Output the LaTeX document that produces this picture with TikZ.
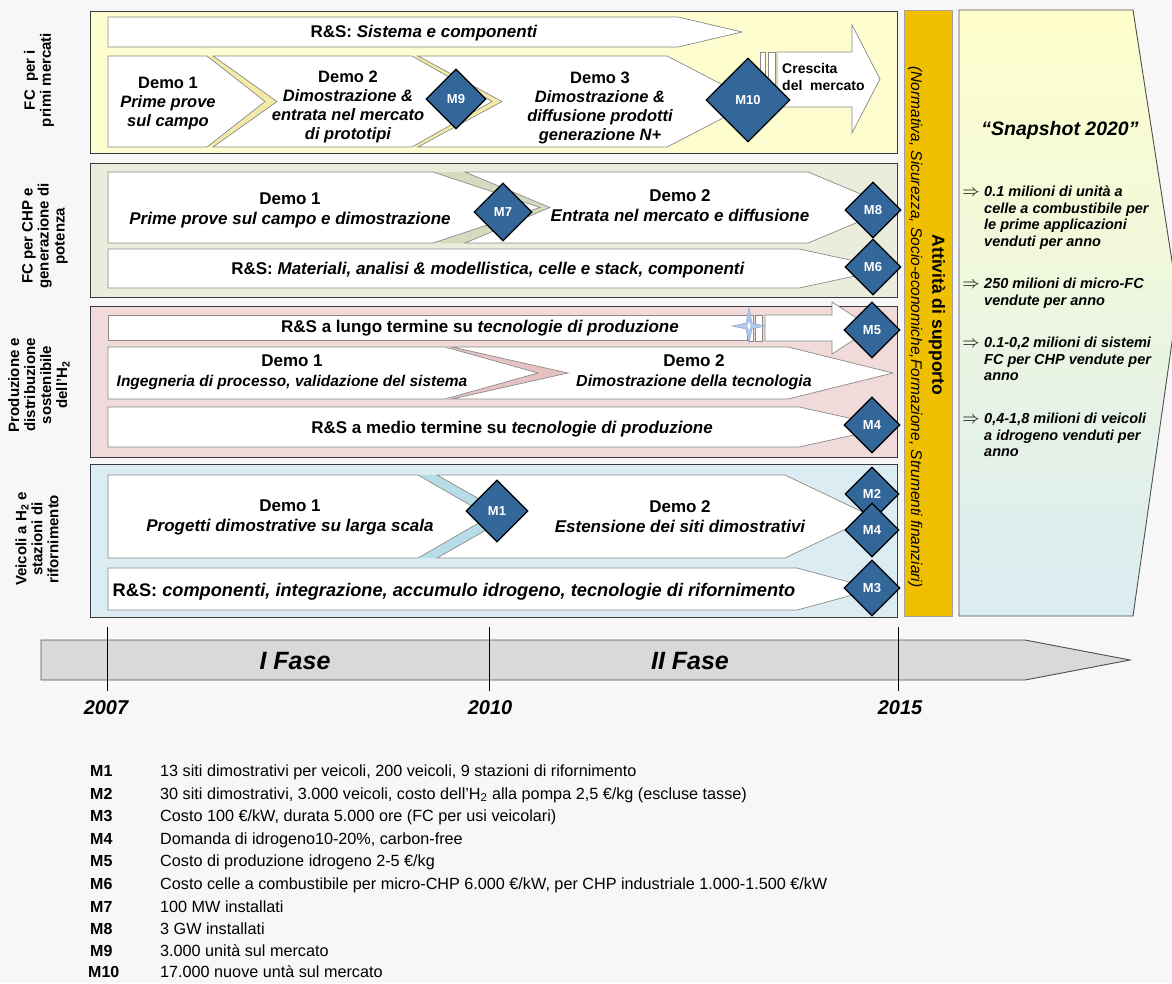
\documentclass[tikz,border=0pt]{standalone}
\usepackage{fontspec}
\setmainfont{Liberation Sans}
\usetikzlibrary{shapes.geometric}
\definecolor{bgc}{HTML}{F7F7F7}
\definecolor{bandline}{HTML}{3C3C3C}
\definecolor{chevline}{HTML}{8A8A8A}
\definecolor{yband}{HTML}{FEFDD0}
\definecolor{ygap}{HTML}{F2EAA6}
\definecolor{gband}{HTML}{EAEDDC}
\definecolor{ggap}{HTML}{D5DBBE}
\definecolor{pband}{HTML}{F1DADA}
\definecolor{pgap}{HTML}{E6C2C2}
\definecolor{bband}{HTML}{DBEDF3}
\definecolor{bgap}{HTML}{B7DDE9}
\definecolor{msblue}{HTML}{336699}
\definecolor{supp}{HTML}{F0C000}
\definecolor{suppline}{HTML}{A0A0A0}
\definecolor{tlfill}{HTML}{D9D9D9}
\definecolor{tlline}{HTML}{505050}
\definecolor{snapY}{HTML}{FFFFCC}
\definecolor{snapB}{HTML}{DAECF3}
\definecolor{starfill}{HTML}{B0C8E8}
\definecolor{starline}{HTML}{8CA8D0}
\newcommand{\chevshape}[7][]{%
  \pgfmathsetmacro{\chvM}{(#4+#5)/2}%
  \draw[chev,#1] (#2,#4) -- (#6,#4) -- (#7,\chvM) -- (#6,#5) -- (#2,#5) -- (#3,\chvM) -- cycle;}
\newcommand{\gapshape}[7]{%
  \pgfmathsetmacro{\chvM}{(#6+#7)/2}%
  \fill[#1] (#2,#6) -- (#4,#6) -- (#5,\chvM) -- (#4,#7) -- (#2,#7) -- (#3,\chvM) -- cycle;}
\begin{document}
\begin{tikzpicture}[x=1pt,y=-1pt,
  bandbox/.style={draw=bandline,line width=0.9pt},
  chev/.style={draw=chevline,fill=white,line width=0.7pt},
  mstone/.style={diamond,aspect=1,draw=black,line width=1.3pt,fill=msblue,text=white,inner sep=0pt,minimum size=#1,font=\bfseries\fontsize{13}{13}\selectfont},
  mstone/.default=56pt,
  lab/.style={rotate=90,align=center,font=\bfseries\fontsize{15}{16}\selectfont},
  dtext/.style={align=center,font=\bfseries\fontsize{17}{20}\selectfont},
  dtextA/.style={align=center,font=\bfseries\fontsize{16.5}{19}\selectfont},
  rstext/.style={font=\bfseries\fontsize{17}{20}\selectfont},
  snap/.style={anchor=north west,align=left,inner sep=0pt,font=\bfseries\itshape\fontsize{14.5}{16.5}\selectfont},
  arr/.style={inner sep=0pt,font=\fontsize{17}{17}\selectfont},
  year/.style={font=\bfseries\itshape\fontsize{20}{20}\selectfont},
  fase/.style={font=\bfseries\itshape\fontsize{25}{25}\selectfont},
  legk/.style={anchor=west,inner sep=0pt,text height=11pt,text depth=3pt,font=\bfseries\fontsize{16}{16}\selectfont},
  legv/.style={anchor=west,inner sep=0pt,text height=11pt,text depth=3pt,font=\fontsize{16.2}{16}\selectfont},
]
\useasboundingbox (0,0) rectangle (1172,983);
\fill[bgc] (0,0) rectangle (1172,983);
\clip (0,0) rectangle (1172,983);

% ---------------- band 1 -----------------
\draw[bandbox,fill=yband] (90,11) rectangle (897,153);
\gapshape{ygap}{207}{265}{213}{277}{56}{147}
\gapshape{ygap}{412}{492}{418}{502}{56}{147}
\chevshape{108}{108}{17}{47}{678}{742}
\chevshape{108}{108}{56}{147}{207}{265}
\chevshape{213}{277}{56}{147}{412}{492}
\chevshape{418}{502}{56}{147}{667}{755}
\draw[chev] (760,52) rectangle (765,108);
\draw[chev] (768,52) rectangle (775,108);
\draw[chev] (777,52) -- (852,52) -- (852,25) -- (880,79) -- (852,133) -- (852,107) -- (777,107) -- cycle;
\node[mstone=60pt] (m9) at (456,99) {M9};
\node[mstone=84pt] (m10) at (748,100) {M10};
\node[rstext] (t1rs) at (424,33) {R\&S: \textit{Sistema e componenti}};
\node[dtextA] (t1d1) at (168,104) {Demo 1\\\itshape Prime prove\\\itshape sul campo};
\node[dtextA] (t1d2) at (348,107) {Demo 2\\\itshape Dimostrazione \&\\\itshape entrata nel mercato\\\itshape di prototipi};
\node[dtextA] (t1d3) at (600,108) {Demo 3\\\itshape Dimostrazione \&\\\itshape diffusione prodotti\\\itshape generazione N+};
\node[anchor=west,align=left,inner sep=0pt,font=\bfseries\fontsize{14}{17}\selectfont] (t1cr) at (782,77) {Crescita\\del\ \ mercato};
\node[lab] (l1) at (39,80) {FC\ \ per i\\primi mercati};

% ---------------- band 2 -----------------
\draw[bandbox,fill=gband] (90,163) rectangle (897,297);
\gapshape{ggap}{433}{540}{465}{550}{172}{243}
\chevshape{108}{108}{172}{243}{433}{540}
\chevshape{465}{550}{172}{243}{808}{893}
\chevshape{108}{108}{249}{288}{799}{890}
\node[mstone=58pt] (m7) at (503,212) {M7};
\node[mstone] (m8) at (873,210) {M8};
\node[mstone] (m6) at (873,267) {M6};
\node[dtext] (t2d1) at (290,210) {Demo 1\\\itshape Prime prove sul campo e dimostrazione};
\node[dtext] (t2d2) at (680,206) {Demo 2\\\itshape Entrata nel mercato e diffusione};
\node[rstext] (t2rs) at (488,270) {R\&S: \textit{Materiali, analisi \& modellistica, celle e stack, componenti}};
\node[lab] (l2) at (45,236) {FC per CHP e\\generazione di\\potenza};

% ---------------- band 3 -----------------
\draw[bandbox,fill=pband] (90,306) rectangle (897,457);
\gapshape{pgap}{445}{538}{452}{568}{347}{399}
\draw[chev] (108,315) rectangle (747,340);
\draw[chev] (749,315) rectangle (753,341);
\draw[chev] (755,315) rectangle (762,341);
\draw[chev] (765,315) -- (832,315) -- (832,302) -- (872,328) -- (832,354) -- (832,341) -- (765,341) -- cycle;
\draw[fill=starfill,draw=starline,line width=0.5pt] (749,308) -- (752,323) -- (765,326) -- (752,329) -- (749,343) -- (746,329) -- (732,326) -- (746,323) -- cycle;
\fill[white] (749,322) -- (750.5,326) -- (749,330) -- (747.5,326) -- cycle;
\chevshape{108}{108}{347}{399}{445}{538}
\chevshape{452}{568}{347}{399}{788}{893}
\chevshape{108}{108}{407}{447}{799}{890}
\node[mstone] (m5) at (872,330) {M5};
\node[mstone] (m4a) at (872,425) {M4};
\node[rstext] (t3rl) at (480,328) {R\&S a lungo termine su \textit{tecnologie di produzione}};
\node[align=center,font=\bfseries\fontsize{17}{20}\selectfont] (t3d1) at (292,372) {Demo 1\\\fontsize{15.5}{20}\selectfont\itshape Ingegneria di processo, validazione del sistema};
\node[align=center,font=\bfseries\fontsize{17}{20}\selectfont] (t3d2) at (694,372) {Demo 2\\\fontsize{16}{20}\selectfont\itshape Dimostrazione della tecnologia};
\node[rstext] (t3rm) at (512,429) {R\&S a medio termine su \textit{tecnologie di produzione}};
\node[lab] (l3) at (39,385) {Produzione e\\distribuzione\\sostenibile\\dell'H\textsubscript{2}};

% ---------------- band 4 -----------------
\draw[bandbox,fill=bband] (90,464) rectangle (897,617);
\gapshape{bgap}{418}{490}{437}{510}{475}{558}
\chevshape{108}{108}{475}{558}{418}{490}
\chevshape{437}{510}{475}{558}{785}{872}
\chevshape{108}{108}{568}{610}{797}{875}
\node[mstone=62pt] (m1) at (497,511) {M1};
\node[mstone=54pt] (m2) at (872,494) {M2};
\node[mstone=54pt] (m4b) at (872,530) {M4};
\node[mstone] (m3) at (872,588) {M3};
\node[dtext] (t4d1) at (290,517) {Demo 1\\\itshape Progetti dimostrative su larga scala};
\node[dtext] (t4d2) at (680,517) {Demo 2\\\itshape Estensione dei siti dimostrativi};
\node[font=\bfseries\fontsize{18.2}{20}\selectfont] (t4rs) at (454,592) {R\&S: \textit{componenti, integrazione, accumulo idrogeno, tecnologie di rifornimento}};
\node[lab] (l4) at (37,539) {Veicoli a H\textsubscript{2} e\\stazioni di\\rifornimento};

% ---------------- support column -----------------
\draw[fill=supp,draw=suppline,line width=0.9pt] (904,10) rectangle (952,616);
\node[rotate=-90,font=\bfseries\fontsize{17.5}{20}\selectfont] (att) at (937,315) {Attività di supporto};
\node[rotate=-90,font=\itshape\fontsize{15.5}{18}\selectfont] (norm) at (915,327) {(Normativa, Sicurezza, Socio-economiche,Formazione, Strumenti finanziari)};

% ---------------- snapshot -----------------
\shade[top color=snapY,bottom color=snapB] (959,10) -- (1133,10) -- (1178,300) -- (1133,616) -- (959,616) -- cycle;
\draw[draw=tlline,line width=0.9pt] (959,10) -- (1133,10) -- (1178,300) -- (1133,616) -- (959,616) -- cycle;
\node[font=\bfseries\itshape\fontsize{19.5}{20}\selectfont] (snt) at (1060,130) {“Snapshot 2020”};
\node[arr] (a1) at (971,193) {$\Rightarrow$};
\node[snap] (s1) at (984,186) {0.1 milioni di unità a\\celle a combustibile per\\le prime applicazioni\\venduti per anno};
\node[arr] (a2) at (971,285) {$\Rightarrow$};
\node[snap] (s2) at (984,278) {250 milioni di micro-FC\\vendute per anno};
\node[arr] (a3) at (971,344) {$\Rightarrow$};
\node[snap] (s3) at (984,337) {0.1-0,2 milioni di sistemi\\FC per CHP vendute per\\anno};
\node[arr] (a4) at (971,420) {$\Rightarrow$};
\node[snap] (s4) at (984,413) {0,4-1,8 milioni di veicoli\\a idrogeno venduti per\\anno};

% ---------------- timeline -----------------
\draw[fill=tlfill,draw=tlline,line width=0.9pt] (41,640) -- (1025,640) -- (1130,660) -- (1025,680) -- (41,680) -- cycle;
\coordinate (y1t) at (107,627); \coordinate (y1b) at (107,691);
\coordinate (y2t) at (489,627); \coordinate (y2b) at (489,691);
\coordinate (y3t) at (898,627); \coordinate (y3b) at (898,691);
\draw[line width=0.5pt] (y1t) -- (y1b);
\draw[line width=0.5pt] (y2t) -- (y2b);
\draw[line width=0.5pt] (y3t) -- (y3b);
\node[fase] (f1) at (295,661) {I Fase};
\node[fase] (f2) at (690,661) {II Fase};
\node[year] (yr1) at (106,708) {2007};
\node[year] (yr2) at (490,708) {2010};
\node[year] (yr3) at (900,708) {2015};

% ---------------- legend -----------------
\node[legk] (k1) at (90,772) {M1};  \node[legv] (v1) at (160,772) {13 siti dimostrativi per veicoli, 200 veicoli, 9 stazioni di rifornimento};
\node[legk] (k2) at (90,795) {M2};  \node[legv] (v2) at (160,795) {30 siti dimostrativi, 3.000 veicoli, costo dell’H\textsubscript{2} alla pompa 2,5 €/kg (escluse tasse)};
\node[legk] (k3) at (90,817) {M3};  \node[legv] (v3) at (160,817) {Costo 100 €/kW, durata 5.000 ore (FC per usi veicolari)};
\node[legk] (k4) at (90,840) {M4};  \node[legv] (v4) at (160,840) {Domanda di idrogeno10-20\%, carbon-free};
\node[legk] (k5) at (90,862) {M5};  \node[legv] (v5) at (160,862) {Costo di produzione idrogeno 2-5 €/kg};
\node[legk] (k6) at (90,885) {M6};  \node[legv] (v6) at (160,885) {Costo celle a combustibile per micro-CHP 6.000 €/kW, per CHP industriale 1.000-1.500 €/kW};
\node[legk] (k7) at (90,908) {M7};  \node[legv] (v7) at (160,908) {100 MW installati};
\node[legk] (k8) at (90,930) {M8};  \node[legv] (v8) at (160,930) {3 GW installati};
\node[legk] (k9) at (90,952) {M9};  \node[legv] (v9) at (160,952) {3.000 unità sul mercato};
\node[legk] (k10) at (88,973) {M10}; \node[legv] (v10) at (160,973) {17.000 nuove untà sul mercato};
\end{tikzpicture}
\end{document}
